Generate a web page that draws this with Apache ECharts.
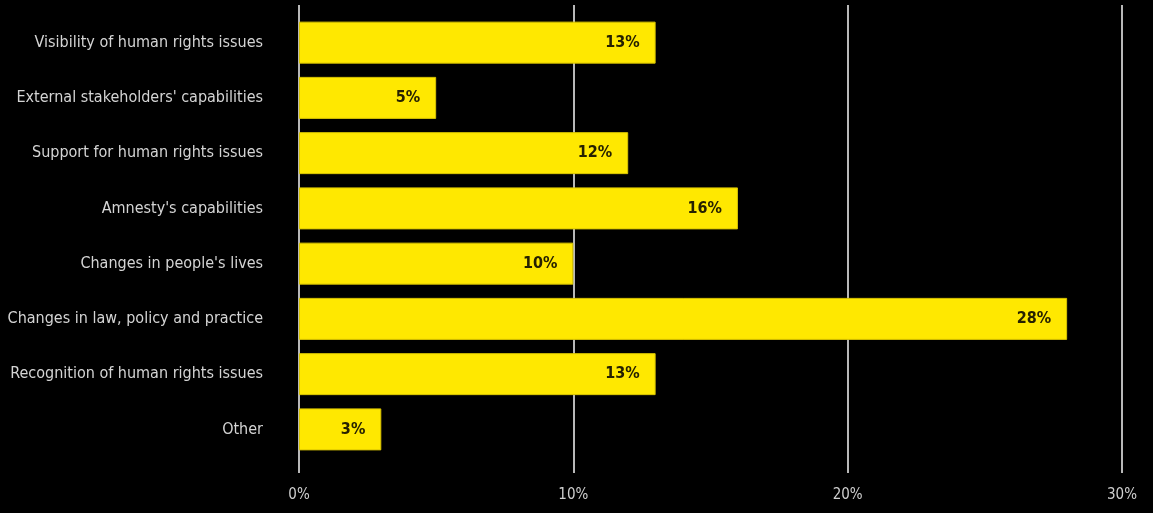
<!DOCTYPE html>
<html>
<head>
<meta charset="utf-8">
<script src="https://cdn.jsdelivr.net/npm/echarts@6/dist/echarts.min.js"></script>
<style>
  html, body { margin: 0; padding: 0; background: #000; }
  #chart { width: 1153px; height: 513px; }
</style>
</head>
<body>
<div id="chart"></div>
<script>
const categories = [
  'Visibility of human rights issues',
  "External stakeholders' capabilities",
  'Support for human rights issues',
  "Amnesty's capabilities",
  "Changes in people's lives",
  'Changes in law, policy and practice',
  'Recognition of human rights issues',
  'Other'
]
const values = [13, 5, 12, 16, 10, 28, 13, 3]
const xTicks = [0, 10, 20, 30]

const font = '"Liberation Sans Narrow", "DejaVu Sans Condensed", sans-serif'
const chart = echarts.init(document.getElementById('chart'))

const option = {
  backgroundColor: '#000',
  animation: false,
  grid: [
    // grid lines + tick labels
    { left: 299, right: 31, top: 5, bottom: 40 },
    // bars
    { left: 299, right: 31, top: 15, bottom: 56 }
  ],
  xAxis: [
    {
      gridIndex: 0,
      type: 'value',
      min: xTicks[0],
      max: xTicks[xTicks.length - 1],
      interval: 10,
      axisLine: { show: false },
      axisTick: { show: false },
      splitLine: { show: true, lineStyle: { color: '#b8b8b8', width: 2 } },
      axisLabel: {
        color: '#cfcfcf',
        fontFamily: font,
        fontSize: 15,
        margin: 15,
        formatter: (v) => v + '%'
      }
    },
    {
      gridIndex: 1,
      type: 'value',
      min: 0,
      max: 30,
      show: false
    }
  ],
  yAxis: [
    { gridIndex: 0, type: 'value', show: false },
    {
      gridIndex: 1,
      type: 'category',
      data: categories,
      inverse: true,
      axisLine: { show: false },
      axisTick: { show: false },
      axisLabel: {
        color: '#d4d4d4',
        fontFamily: font,
        fontSize: 16,
        margin: 36
      }
    }
  ],
  series: [
    {
      type: 'bar',
      xAxisIndex: 1,
      yAxisIndex: 1,
      data: values,
      barWidth: 42,
      itemStyle: { color: '#ffe800', borderColor: '#d9c400', borderWidth: 1 },
      label: {
        show: true,
        position: 'insideRight',
        distance: 16,
        color: '#262100',
        fontFamily: font,
        fontWeight: 'bold',
        fontSize: 16,
        formatter: (p) => p.value + '%'
      }
    }
  ]
}
chart.setOption(option)
</script>
</body>
</html>
